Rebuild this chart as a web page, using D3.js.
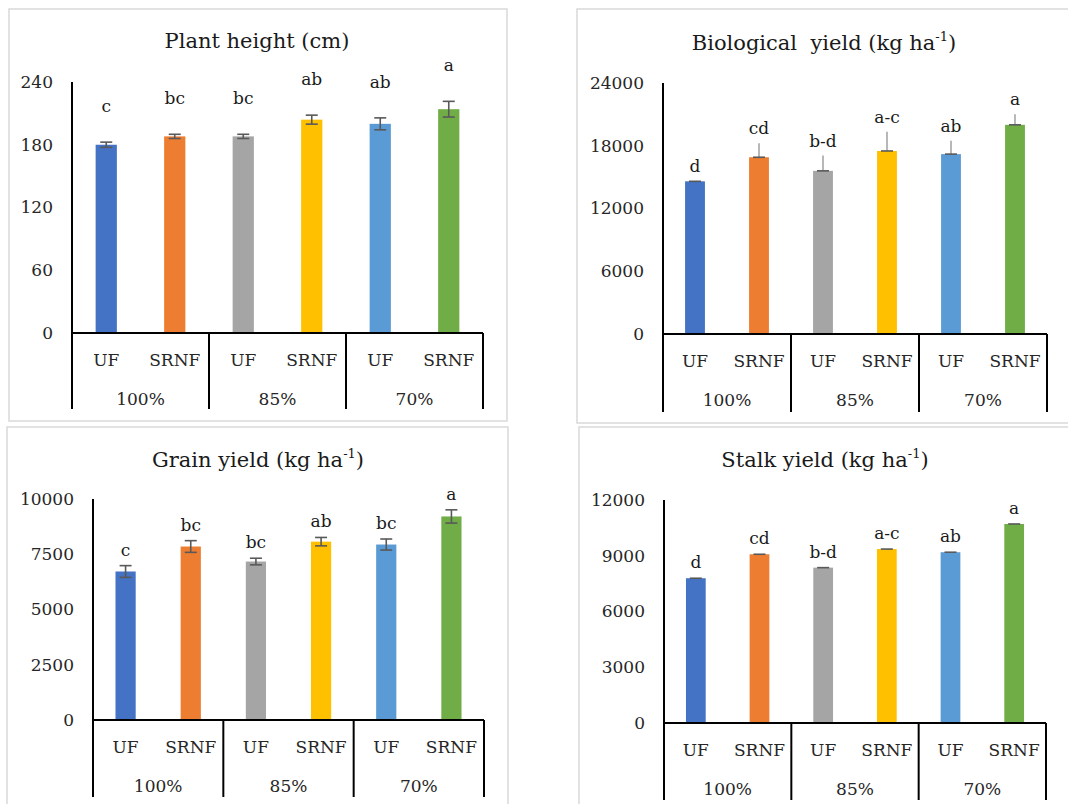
<!DOCTYPE html>
<html lang="en">
<head>
    <meta charset="UTF-8">
    <title>Plant height and yields</title>
    <script src="https://d3js.org/d3.v7.min.js"></script>
    <style>
        body, html {
            margin: 0;
            background-color: #ffffff;
            overflow: hidden;
        }
        svg text {
            font-family: "DejaVu Serif", serif;
        }
    </style>
</head>
<body>
<svg id="chart" width="1068" height="804"></svg>

<script>
    // shared categories
    const treatments = ["UF", "SRNF", "UF", "SRNF", "UF", "SRNF"];
    const levels = ["100%", "85%", "70%"];
    const barColors = ["#4472C4", "#ED7D31", "#A5A5A5", "#FFC000", "#5B9BD5", "#70AD47"];

    // plant height (cm)
    const heightMean = [180, 188, 188, 204, 200, 214];
    const heightErr = [2.5, 2, 2, 4.3, 5.7, 7.5];
    const heightLetters = ["c", "bc", "bc", "ab", "ab", "a"];
    const heightTicks = [0, 60, 120, 180, 240];

    // biological yield (kg ha-1)
    const bioMean = [14600, 16900, 15600, 17500, 17200, 20000];
    const bioErr = [0, 1340, 1460, 1850, 1270, 1020];
    const bioLetters = ["d", "cd", "b-d", "a-c", "ab", "a"];
    const bioTicks = [0, 6000, 12000, 18000, 24000];

    // grain yield (kg ha-1)
    const grainMean = [6720, 7850, 7170, 8070, 7940, 9210];
    const grainErr = [265, 265, 150, 190, 250, 300];
    const grainLetters = ["c", "bc", "bc", "ab", "bc", "a"];
    const grainTicks = [0, 2500, 5000, 7500, 10000];

    // stalk yield (kg ha-1)
    const stalkMean = [7790, 9080, 8360, 9360, 9190, 10710];
    const stalkErr = [0, 0, 0, 0, 0, 0];
    const stalkLetters = ["d", "cd", "b-d", "a-c", "ab", "a"];
    const stalkTicks = [0, 3000, 6000, 9000, 12000];

    // panel layout (pixels)
    const panels = [
        {title: "Plant height (cm)", sup: null, mean: heightMean, err: heightErr, letters: heightLetters, ticks: heightTicks,
         box: [9, 9, 498, 412], axisX: 72, top: 82, zero: 333, right: 483, bottom: 409,
         titleX: 257, titleY: 48, labelGap: 36, style: "both"},
        {title: "Biological  yield (kg ha", sup: "-1", mean: bioMean, err: bioErr, letters: bioLetters, ticks: bioTicks,
         box: [577, 9, 500, 414], axisX: 663, top: 83, zero: 334, right: 1047, bottom: 412,
         titleX: 824, titleY: 50, labelGap: 15, style: "up"},
        {title: "Grain yield (kg ha", sup: "-1", mean: grainMean, err: grainErr, letters: grainLetters, ticks: grainTicks,
         box: [7, 427, 501, 390], axisX: 93, top: 499, zero: 720, right: 484, bottom: 797,
         titleX: 258, titleY: 467, labelGap: 16, style: "both"},
        {title: "Stalk yield (kg ha", sup: "-1", mean: stalkMean, err: stalkErr, letters: stalkLetters, ticks: stalkTicks,
         box: [579, 427, 500, 390], axisX: 664, top: 500, zero: 723, right: 1046, bottom: 800,
         titleX: 825, titleY: 467, labelGap: 16, style: "up"}
    ];

    const fs = 17;       // axis / label font size
    const titleFs = 21;

    const svg = d3.select("#chart");

    panels.forEach(p => drawPanel(p));

    function drawPanel(p) {
        const g = svg.append("g");

        g.append("rect")
            .attr("x", p.box[0]).attr("y", p.box[1])
            .attr("width", p.box[2]).attr("height", p.box[3])
            .attr("fill", "#ffffff")
            .attr("stroke", "#d9d9d9")
            .attr("stroke-width", 1.5);

        // title with optional superscript
        const t = g.append("text")
            .attr("x", p.titleX).attr("y", p.titleY)
            .attr("text-anchor", "middle")
            .attr("font-size", titleFs)
            .attr("fill", "#1a1a1a")
            .style("white-space", "pre");
        t.append("tspan").text(p.title);
        if (p.sup) {
            t.append("tspan").attr("font-size", 13).attr("dy", -9).text(p.sup);
            t.append("tspan").attr("dy", 9).text(")");
        }

        const y = d3.scaleLinear()
            .domain([0, d3.max(p.ticks)])
            .range([p.zero, p.top]);

        const x = d3.scaleBand()
            .domain(d3.range(treatments.length))
            .range([p.axisX, p.right])
            .padding(0);

        const barW = x.bandwidth() * 0.31;

        // y axis labels
        const yAxis = d3.axisLeft(y)
            .tickValues(p.ticks)
            .tickFormat(d3.format("d"))
            .tickSize(0)
            .tickPadding(19);
        const ya = g.append("g").attr("transform", `translate(${p.axisX},0)`).call(yAxis);
        ya.attr("font-family", null).attr("font-size", null);
        ya.select(".domain").remove();
        ya.selectAll("text")
            .attr("font-size", fs)
            .attr("fill", "#262626");

        // bars
        g.selectAll(".bar")
            .data(p.mean)
            .join("rect")
            .attr("class", "bar")
            .attr("x", (d, i) => x(i) + x.bandwidth() / 2 - barW / 2)
            .attr("y", d => y(d))
            .attr("width", barW)
            .attr("height", d => y(0) - y(d))
            .attr("fill", (d, i) => barColors[i]);

        // error bars
        const capW = 12;
        p.mean.forEach((m, i) => {
            const cx = x(i) + x.bandwidth() / 2;
            const e = p.err[i];
            if (p.style === "both") {
                g.append("line")
                    .attr("x1", cx).attr("x2", cx)
                    .attr("y1", y(m - e)).attr("y2", y(m + e))
                    .attr("stroke", "#595959").attr("stroke-width", 1.6);
                [m - e, m + e].forEach(v => {
                    g.append("line")
                        .attr("x1", cx - capW / 2).attr("x2", cx + capW / 2)
                        .attr("y1", y(v)).attr("y2", y(v))
                        .attr("stroke", "#595959").attr("stroke-width", 1.6);
                });
            } else {
                if (e > 0) {
                    g.append("line")
                        .attr("x1", cx).attr("x2", cx)
                        .attr("y1", y(m)).attr("y2", y(m + e))
                        .attr("stroke", "#a6a6a6").attr("stroke-width", 1.6);
                }
                g.append("line")
                    .attr("x1", cx - capW / 2).attr("x2", cx + capW / 2)
                    .attr("y1", y(m)).attr("y2", y(m))
                    .attr("stroke", "#595959").attr("stroke-width", 1.6);
            }
        });

        // significance letters
        g.selectAll(".letter")
            .data(p.letters)
            .join("text")
            .attr("class", "letter")
            .attr("x", (d, i) => x(i) + x.bandwidth() / 2)
            .attr("y", (d, i) => y(p.mean[i] + p.err[i]) - p.labelGap + 6)
            .attr("text-anchor", "middle")
            .attr("font-size", fs)
            .attr("fill", "#1a1a1a")
            .text(d => d);

        // axis lines
        g.append("line")
            .attr("x1", p.axisX).attr("x2", p.axisX)
            .attr("y1", p.top).attr("y2", p.bottom)
            .attr("stroke", "#000").attr("stroke-width", 2);
        g.append("line")
            .attr("x1", p.axisX).attr("x2", p.right)
            .attr("y1", p.zero).attr("y2", p.zero)
            .attr("stroke", "#000").attr("stroke-width", 2);

        // group dividers
        levels.forEach((lv, k) => {
            const xr = x(2 * k + 1) + x.bandwidth();
            g.append("line")
                .attr("x1", xr).attr("x2", xr)
                .attr("y1", p.zero).attr("y2", p.bottom)
                .attr("stroke", "#000").attr("stroke-width", 2);
            g.append("text")
                .attr("x", x(2 * k) + x.bandwidth())
                .attr("y", p.zero + 72)
                .attr("text-anchor", "middle")
                .attr("font-size", fs)
                .attr("fill", "#262626")
                .text(lv);
        });

        // treatment labels
        g.selectAll(".cat")
            .data(treatments)
            .join("text")
            .attr("class", "cat")
            .attr("x", (d, i) => x(i) + x.bandwidth() / 2)
            .attr("y", p.zero + 33)
            .attr("text-anchor", "middle")
            .attr("font-size", fs)
            .attr("fill", "#262626")
            .text(d => d);
    }
</script>
</body>
</html>
